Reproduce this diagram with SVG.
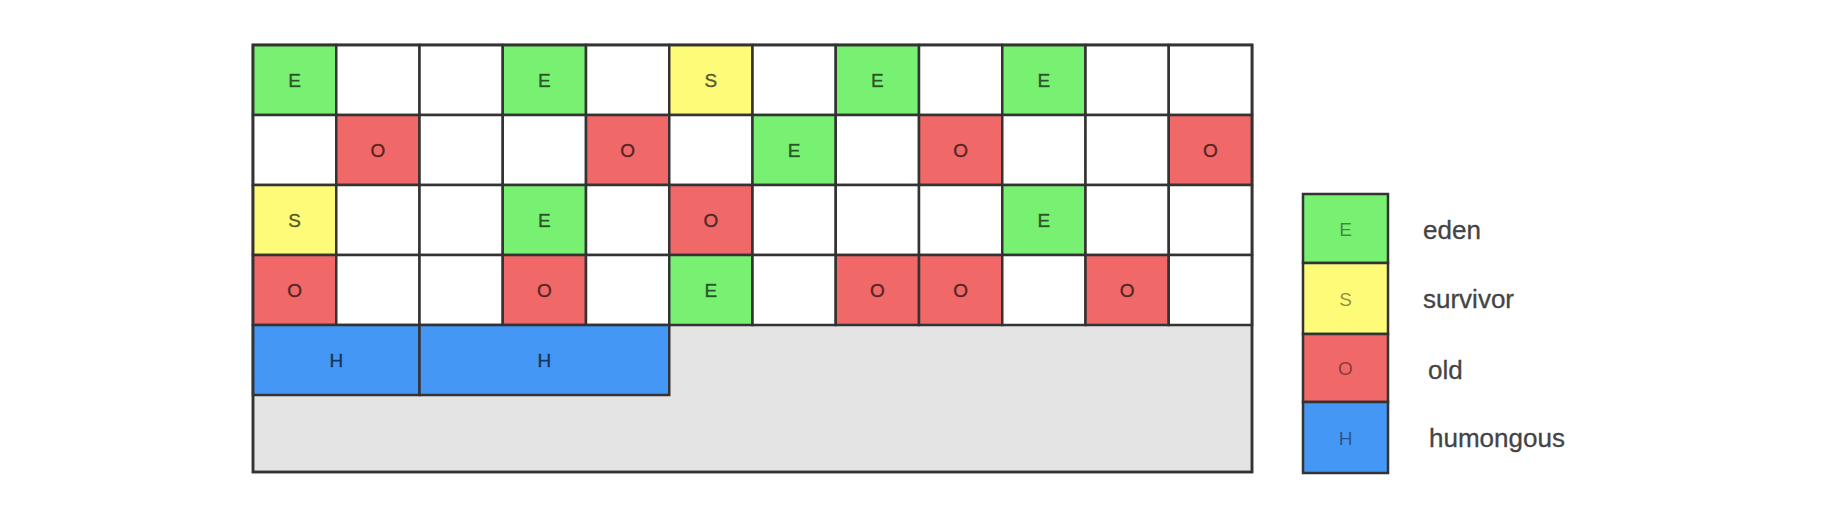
<svg xmlns="http://www.w3.org/2000/svg" width="1840" height="522" viewBox="0 0 1840 522">
<style>
.c{stroke:#333;stroke-width:2.5}
.w{fill:#ffffff}
.e{fill:#78f173}
.s{fill:#fdfb78}
.o{fill:#f06868}
.h{fill:#4497f5}
.g{fill:#e4e4e4}
.t{font-family:"Liberation Sans",Arial,sans-serif;font-size:19px;text-anchor:middle;fill:#000;fill-opacity:0.62;stroke:#000;stroke-opacity:0.5;stroke-width:0.5}
.lt{font-family:"Liberation Sans",Arial,sans-serif;font-size:19px;text-anchor:middle;fill:#000;fill-opacity:0.45}
.lab{font-family:"Liberation Sans",Arial,sans-serif;font-size:26px;fill:#444;stroke:#444;stroke-width:0.3}
</style>
<rect width="1840" height="522" fill="#ffffff"/>
<g id="heap">
<rect x="253" y="45" width="999" height="427" class="g c"/>
</g>
<g id="row0">
<rect x="253" y="45" width="83.25" height="70" class="c e"/><text x="294.6" y="87" class="t">E</text>
<rect x="336.25" y="45" width="83.25" height="70" class="c w"/>
<rect x="419.5" y="45" width="83.25" height="70" class="c w"/>
<rect x="502.75" y="45" width="83.25" height="70" class="c e"/><text x="544.4" y="87" class="t">E</text>
<rect x="586" y="45" width="83.25" height="70" class="c w"/>
<rect x="669.25" y="45" width="83.25" height="70" class="c s"/><text x="710.9" y="87" class="t">S</text>
<rect x="752.5" y="45" width="83.25" height="70" class="c w"/>
<rect x="835.75" y="45" width="83.25" height="70" class="c e"/><text x="877.4" y="87" class="t">E</text>
<rect x="919" y="45" width="83.25" height="70" class="c w"/>
<rect x="1002.25" y="45" width="83.25" height="70" class="c e"/><text x="1043.9" y="87" class="t">E</text>
<rect x="1085.5" y="45" width="83.25" height="70" class="c w"/>
<rect x="1168.75" y="45" width="83.25" height="70" class="c w"/>
</g>
<g id="row1">
<rect x="253" y="115" width="83.25" height="70" class="c w"/>
<rect x="336.25" y="115" width="83.25" height="70" class="c o"/><text x="377.9" y="157" class="t">O</text>
<rect x="419.5" y="115" width="83.25" height="70" class="c w"/>
<rect x="502.75" y="115" width="83.25" height="70" class="c w"/>
<rect x="586" y="115" width="83.25" height="70" class="c o"/><text x="627.6" y="157" class="t">O</text>
<rect x="669.25" y="115" width="83.25" height="70" class="c w"/>
<rect x="752.5" y="115" width="83.25" height="70" class="c e"/><text x="794.1" y="157" class="t">E</text>
<rect x="835.75" y="115" width="83.25" height="70" class="c w"/>
<rect x="919" y="115" width="83.25" height="70" class="c o"/><text x="960.6" y="157" class="t">O</text>
<rect x="1002.25" y="115" width="83.25" height="70" class="c w"/>
<rect x="1085.5" y="115" width="83.25" height="70" class="c w"/>
<rect x="1168.75" y="115" width="83.25" height="70" class="c o"/><text x="1210.4" y="157" class="t">O</text>
</g>
<g id="row2">
<rect x="253" y="185" width="83.25" height="70" class="c s"/><text x="294.6" y="227" class="t">S</text>
<rect x="336.25" y="185" width="83.25" height="70" class="c w"/>
<rect x="419.5" y="185" width="83.25" height="70" class="c w"/>
<rect x="502.75" y="185" width="83.25" height="70" class="c e"/><text x="544.4" y="227" class="t">E</text>
<rect x="586" y="185" width="83.25" height="70" class="c w"/>
<rect x="669.25" y="185" width="83.25" height="70" class="c o"/><text x="710.9" y="227" class="t">O</text>
<rect x="752.5" y="185" width="83.25" height="70" class="c w"/>
<rect x="835.75" y="185" width="83.25" height="70" class="c w"/>
<rect x="919" y="185" width="83.25" height="70" class="c w"/>
<rect x="1002.25" y="185" width="83.25" height="70" class="c e"/><text x="1043.9" y="227" class="t">E</text>
<rect x="1085.5" y="185" width="83.25" height="70" class="c w"/>
<rect x="1168.75" y="185" width="83.25" height="70" class="c w"/>
</g>
<g id="row3">
<rect x="253" y="255" width="83.25" height="70" class="c o"/><text x="294.6" y="297" class="t">O</text>
<rect x="336.25" y="255" width="83.25" height="70" class="c w"/>
<rect x="419.5" y="255" width="83.25" height="70" class="c w"/>
<rect x="502.75" y="255" width="83.25" height="70" class="c o"/><text x="544.4" y="297" class="t">O</text>
<rect x="586" y="255" width="83.25" height="70" class="c w"/>
<rect x="669.25" y="255" width="83.25" height="70" class="c e"/><text x="710.9" y="297" class="t">E</text>
<rect x="752.5" y="255" width="83.25" height="70" class="c w"/>
<rect x="835.75" y="255" width="83.25" height="70" class="c o"/><text x="877.4" y="297" class="t">O</text>
<rect x="919" y="255" width="83.25" height="70" class="c o"/><text x="960.6" y="297" class="t">O</text>
<rect x="1002.25" y="255" width="83.25" height="70" class="c w"/>
<rect x="1085.5" y="255" width="83.25" height="70" class="c o"/><text x="1127.1" y="297" class="t">O</text>
<rect x="1168.75" y="255" width="83.25" height="70" class="c w"/>
</g>
<g id="humongous1">
<rect x="253" y="325" width="166.5" height="70" class="c h"/><text x="336.25" y="367" class="t">H</text>
</g>
<g id="humongous2">
<rect x="419.5" y="325" width="249.75" height="70" class="c h"/><text x="544.4" y="367" class="t">H</text>
</g>
<g id="heap-outline">
<rect x="253" y="45" width="999" height="427" fill="none" class="c"/>
</g>
<g id="legend-eden">
<rect x="1303" y="194" width="85" height="69" class="c e"/><text x="1345.5" y="235.5" class="lt">E</text>
<text x="1423" y="239" class="lab">eden</text>
</g>
<g id="legend-survivor">
<rect x="1303" y="263" width="85" height="71" class="c s"/><text x="1345.5" y="305.5" class="lt">S</text>
<text x="1423" y="308" class="lab">survivor</text>
</g>
<g id="legend-old">
<rect x="1303" y="334" width="85" height="68" class="c o"/><text x="1345.5" y="375" class="lt">O</text>
<text x="1428" y="379" class="lab">old</text>
</g>
<g id="legend-humongous">
<rect x="1303" y="402" width="85" height="71" class="c h"/><text x="1345.5" y="444.5" class="lt">H</text>
<text x="1429" y="447" class="lab">humongous</text>
</g>
<g id="connectors"></g>
</svg>
